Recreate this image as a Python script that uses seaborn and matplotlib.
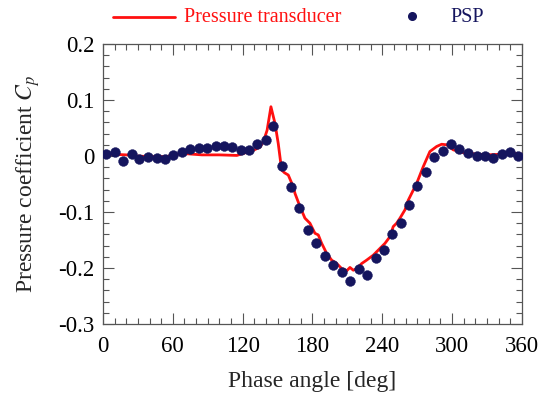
import numpy as np
import pandas as pd
import matplotlib
matplotlib.use("Agg")
import matplotlib.pyplot as plt
from matplotlib.ticker import MultipleLocator, FuncFormatter
from matplotlib.lines import Line2D
import seaborn as sns

# ---- data ----
psp_deg = [2.6, 10.3, 16.9, 24.7, 31.2, 38.9, 46.1, 53.3, 60.4, 67.6, 74.7, 82.5,
           89.6, 96.8, 104.0, 111.0, 118.3, 125.4, 132.6, 139.8, 146.3, 153.5, 161.3, 168.6,
           175.9, 183.0, 190.7, 197.9, 205.1, 212.2, 219.9, 227.1, 234.3, 241.4, 248.5, 255.8,
           262.9, 270.0, 277.2, 284.4, 291.8, 299.0, 306.1, 313.8, 321.0, 328.2, 335.3, 342.5,
           349.7, 356.5]
psp_cp = [0.004, 0.008, -0.009, 0.004, -0.005, -0.002, -0.004, -0.006, 0.001, 0.007, 0.012, 0.014,
          0.015, 0.017, 0.017, 0.016, 0.011, 0.011, 0.021, 0.029, 0.054, -0.018, -0.055, -0.092,
          -0.133, -0.155, -0.178, -0.195, -0.207, -0.223, -0.202, -0.212, -0.183, -0.167, -0.139, -0.119,
          -0.088, -0.054, -0.029, -0.001, 0.009, 0.021, 0.013, 0.005, 0.000, 0.000, -0.003, 0.004,
          0.008, 0.000]

pt_deg = [0, 10, 20, 28, 40, 55, 62, 72, 85, 100, 115, 121, 129, 135, 138, 141, 144.3, 147.8,
          150.6, 153.5, 156, 159.2, 163.5, 165, 169.2, 173.5, 177.8, 182.1, 185, 187.9, 192.2,
          196.5, 200.8, 205.1, 209.4, 212.2, 215.1, 218, 222.3, 226.5, 232.3, 238, 242.3, 246.6,
          249.4, 252.3, 255.2, 259.5, 262.3, 266.6, 269.5, 275.2, 280.9, 286.7, 291, 295.3, 301,
          309.6, 318.2, 329.6, 341, 352.5, 360]
pt_cp = [0.003, 0.003, 0.002, 0.000, -0.001, -0.001, 0.003, 0.004, 0.002, 0.002, 0.001, 0.005,
         0.010, 0.016, 0.027, 0.046, 0.088, 0.058, 0.022, -0.025, -0.030, -0.034, -0.055, -0.067,
         -0.090, -0.111, -0.120, -0.138, -0.141, -0.156, -0.174, -0.186, -0.192, -0.201, -0.205,
         -0.199, -0.204, -0.201, -0.192, -0.186, -0.177, -0.165, -0.156, -0.144, -0.126, -0.120,
         -0.111, -0.096, -0.079, -0.061, -0.049, -0.019, 0.008, 0.017, 0.021, 0.020, 0.011,
         0.006, 0.004, 0.002, 0.003, 0.005, 0.003]

x_ticks = [0, 60, 120, 180, 240, 300, 360]
y_ticks = [-0.3, -0.2, -0.1, 0, 0.1, 0.2]
legend_labels = ["Pressure transducer", "PSP"]

RED = "#ff1010"
NAVY = "#15155e"

sns.set_style("ticks")
plt.rcParams["font.family"] = ["Liberation Serif", "DejaVu Serif"]
plt.rcParams["mathtext.fontset"] = "stix"
plt.rcParams["axes.unicode_minus"] = False

fig = plt.figure(figsize=(5.5, 3.94), dpi=100)
ax = fig.add_axes([0.1873, 0.1777, 0.949 - 0.1873, 0.8883 - 0.1777])

df_pt = pd.DataFrame({"deg": pt_deg, "cp": pt_cp})
df_psp = pd.DataFrame({"deg": psp_deg, "cp": psp_cp})
sns.lineplot(data=df_pt, x="deg", y="cp", ax=ax, color=RED, linewidth=2.0, sort=False)
sns.scatterplot(data=df_psp, x="deg", y="cp", ax=ax, color=NAVY, s=50, edgecolor=NAVY,
                linewidth=0.3, zorder=3)

ax.set_xlim(0, 360)
ax.set_ylim(-0.3, 0.2)
ax.set_xticks(x_ticks)
ax.set_yticks(y_ticks)
ax.xaxis.set_minor_locator(MultipleLocator(10))
ax.yaxis.set_minor_locator(MultipleLocator(0.02))
ax.yaxis.set_major_formatter(FuncFormatter(lambda v, p: "0" if abs(v) < 1e-9 else f"{v:.1f}"))
ax.tick_params(which="both", direction="in", top=True, right=True, colors="#555555",
               labelcolor="black", labelsize=16.5, width=0.8)
ax.tick_params(which="major", length=8)
ax.tick_params(axis="x", which="major", pad=9)
ax.tick_params(axis="y", which="major", pad=6)
ax.tick_params(which="minor", length=4.5)
for s in ax.spines.values():
    s.set_color("#555555")
    s.set_linewidth(0.9)

ax.set_xlabel("Phase angle [deg]", fontsize=17, labelpad=10)
ax.set_ylabel("Pressure coefficient $C_p$", fontsize=17, labelpad=12)

# legend above the axes
fig.add_artist(Line2D([113 / 550, 175 / 550], [1 - 17 / 394, 1 - 17 / 394], color=RED, linewidth=2.0))
fig.text(184 / 550, 1 - 17 / 394, legend_labels[0], color=RED, fontsize=14.5, va="center", ha="left")
fig.add_artist(Line2D([412 / 550], [1 - 16 / 394], marker="o", color=NAVY, markersize=5.5, linestyle="none"))
fig.text(450 / 550, 1 - 17 / 394, legend_labels[1], color=NAVY, fontsize=14.5, va="center", ha="left")

fig.savefig("out.png", dpi=100, facecolor="white")
